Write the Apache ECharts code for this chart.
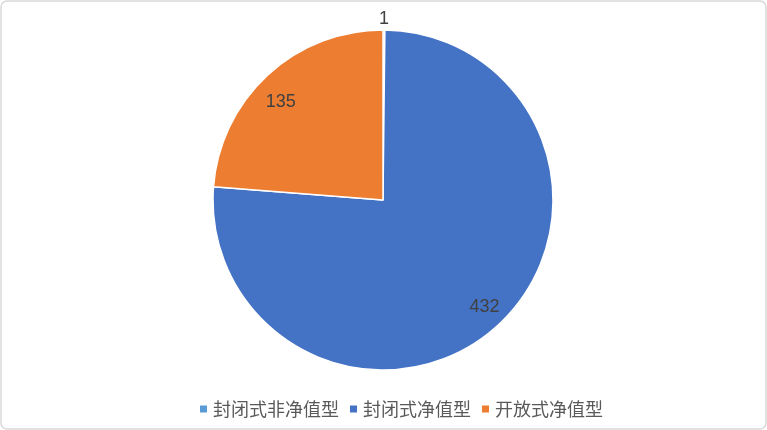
<!DOCTYPE html>
<html><head><meta charset="utf-8">
<script src="https://cdn.jsdelivr.net/npm/echarts@6/dist/echarts.min.js"></script>
<style>html,body{margin:0;padding:0;background:#fff}#c{width:767px;height:430px}</style>
</head><body><div id="c"></div>
<script>
const categories = ['封闭式非净值型', '封闭式净值型', '开放式净值型'];
const values = [1, 432, 135];
const colors = ['#5B9BD5', '#4472C4', '#ED7D31'];
const labelNudges = [[0, 0], [3, -1], [-3, 9]];

const chart = echarts.init(document.getElementById('c'));
const mainData = categories.map((n, i) => ({
  name: n, value: values[i],
  itemStyle: { color: colors[i] },
  label: i === 0 ? { show: true, position: 'outside', offset: [-10, -7] } : { show: false }
}));
const overlayData = categories.map((n, i) => ({
  name: n, value: values[i],
  label: { show: i !== 0, offset: labelNudges[i] }
}));
chart.setOption({
  animation: false,
  graphic: [{ type: 'rect', silent: true, z: -1,
    shape: { x: 1, y: 1, width: 765, height: 428, r: 6 },
    style: { fill: 'none', stroke: '#d9d9d9', lineWidth: 1.5 } }],
  legend: {
    top: 395, left: 193, itemWidth: 9, itemHeight: 9, itemGap: 9, icon: 'rect',
    data: categories,
    textStyle: { fontSize: 18, color: '#595959', fontFamily: 'Noto Sans CJK SC' }
  },
  series: [{
    type: 'pie', center: [383, 200], radius: 170, startAngle: 90, clockwise: true,
    data: mainData,
    label: { formatter: '{c}', fontSize: 18, color: '#404040', fontFamily: 'Liberation Sans' },
    labelLine: { show: false, length: 4, length2: 0 },
    itemStyle: { borderColor: '#fff', borderWidth: 1.5 }, silent: true
  }, {
    type: 'pie', center: [383, 200], radius: [116, 170], startAngle: 90, clockwise: true,
    data: overlayData, silent: true, legendHoverLink: false,
    itemStyle: { color: 'rgba(0,0,0,0)' },
    label: { formatter: '{c}', position: 'inside', fontSize: 18, color: '#404040', fontFamily: 'Liberation Sans' },
    labelLine: { show: false }
  }]
});
</script></body></html>
